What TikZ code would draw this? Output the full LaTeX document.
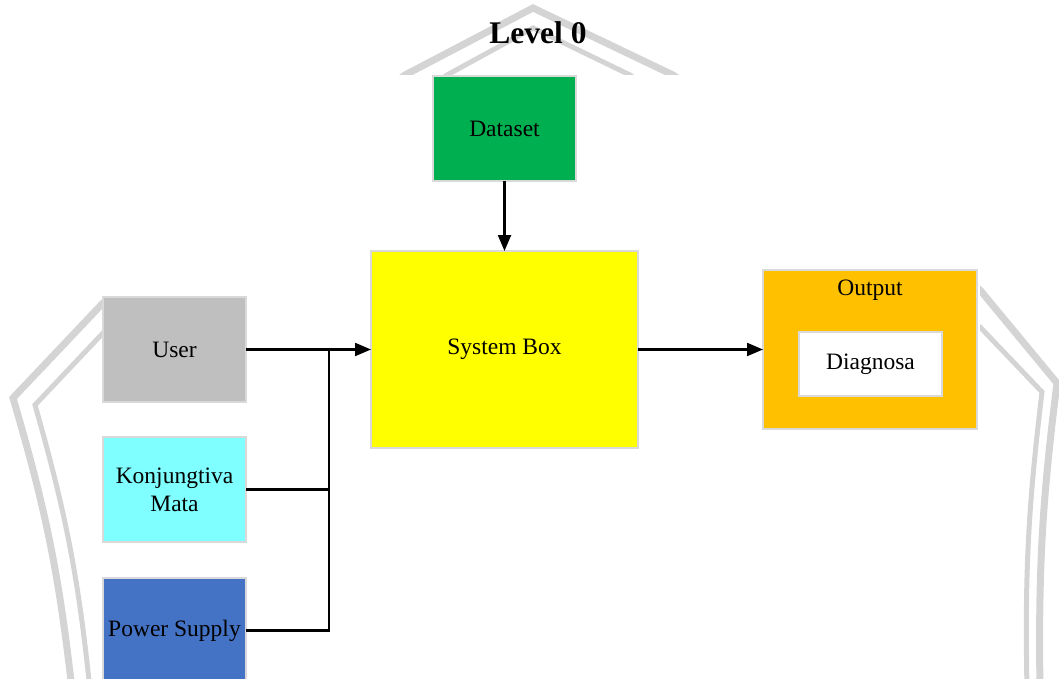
\documentclass[tikz,border=0pt]{standalone}
\usepackage{fontspec}
\setmainfont{Liberation Serif}
\usetikzlibrary{arrows.meta}

\definecolor{dsgreen}{RGB}{0,176,80}
\definecolor{usergray}{RGB}{191,191,191}
\definecolor{konjcyan}{RGB}{127,255,255}
\definecolor{pwrblue}{RGB}{68,114,196}
\definecolor{sysyellow}{RGB}{255,255,0}
\definecolor{outorange}{RGB}{255,192,0}
\definecolor{edgegray}{RGB}{217,217,217}
\definecolor{wmark}{RGB}{212,212,212}

\tikzset{
  blok/.style={draw=edgegray, line width=1.2pt, inner sep=0pt, outer sep=0pt,
    align=center, font=\fontsize{23.5}{28}\selectfont},
  panah/.style={line width=2.2pt, -{Triangle[length=16pt,width=13pt]}},
  garis/.style={line width=2.2pt},
}

\begin{document}
\begin{tikzpicture}[x=1pt,y=-1pt]
    \useasboundingbox (0,0) rectangle (1059,679);
    \clip (0,0) rectangle (1059,679);

    % watermark in the background
    \draw[wmark, line width=7pt] (72,690) to[bend right=5] (13,398) -- (103,303) -- (405,75)
        -- (533,8) -- (673,75) -- (980,290) -- (1057,383) to[bend right=4] (1040,690);
    \draw[wmark, line width=5pt] (90,690) to[bend right=5] (35,405) -- (103,333) -- (447,75)
        -- (533,28) -- (630,75) -- (980,327) -- (1042,392) to[bend right=4] (1027,690);

    % white page of the diagram
    \fill[white] (103,75) rectangle (980,679);

    \node[font=\bfseries\fontsize{31.5}{36}\selectfont] (judul) at (538,33) {Level 0}; % title

    % the boxes
    \node[blok, fill=dsgreen, minimum width=143pt, minimum height=105pt] (dataset) at (504.5,128.5) {Dataset};
    \node[blok, fill=sysyellow, minimum width=267pt, minimum height=197pt] (sistem) at (504.5,349.5) {\raisebox{-2pt}{System Box}};

    \node[blok, fill=usergray, minimum width=143pt, minimum height=105pt] (user) at (174.5,349.5) {User};
    \node[blok, fill=konjcyan, minimum width=143pt, minimum height=105pt] (konjungtiva) at (174.5,489.5) {Konjungtiva\\Mata};
    \node[blok, fill=pwrblue, minimum width=143pt, minimum height=105pt] (power) at (174.5,630.5) {\raisebox{-2pt}{Power Supply}};

    \node[blok, fill=outorange, minimum width=214pt, minimum height=159pt] (output) at (870,349.5) {};
    \node[font=\fontsize{23.5}{28}\selectfont] (outlabel) at (870,290) {Output}; % label on top of the box
    \node[blok, fill=white, minimum width=143pt, minimum height=64pt] (diagnosa) at (870.5,364) {\raisebox{-2pt}{Diagnosa}};

    % the connectors
    \coordinate (simpul) at (329,349.5); % where the three inputs join
    \draw[panah] (user.east) -- (sistem.west);
    \draw[garis] (konjungtiva.east) -| (simpul);
    \draw[garis] (power.east) -| (simpul);

    \draw[panah] (dataset.south) -- (sistem.north);
    \draw[panah] (sistem.east) -- (output.west);

\end{tikzpicture}
\end{document}
